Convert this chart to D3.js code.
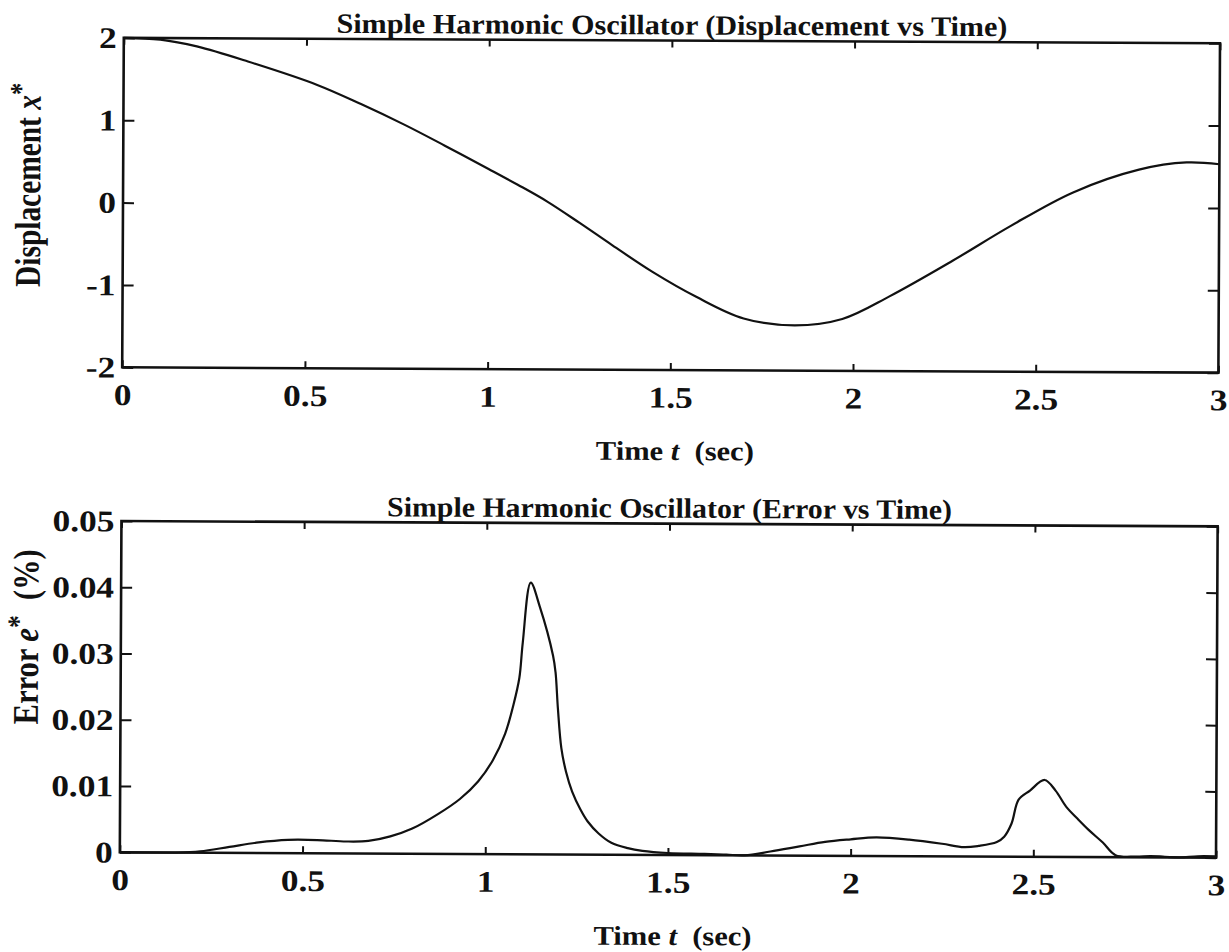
<!DOCTYPE html>
<html>
<head>
<meta charset="utf-8">
<script src="https://cdn.jsdelivr.net/npm/d3@7"></script>
<style>
  html, body { margin: 0; background: #fff; }
  svg text { font-family: "Liberation Serif", "Times New Roman", serif; font-weight: bold; fill: #111; }
</style>
</head>
<body>
<svg id="fig" width="1229" height="952"></svg>
<script>
// Displacement x*(t)
const dispTime  = [0, 0.1, 0.2, 0.34, 0.53, 0.65, 0.77, 0.88, 1.0, 1.08, 1.16, 1.25, 1.34, 1.45, 1.57, 1.70, 1.84, 1.97, 2.10, 2.27, 2.43, 2.60, 2.78, 2.91, 3.0];
const dispValue = [2.0, 1.98, 1.90, 1.72, 1.44, 1.21, 0.96, 0.71, 0.43, 0.24, 0.04, -0.22, -0.49, -0.81, -1.11, -1.37, -1.45, -1.37, -1.09, -0.66, -0.23, 0.18, 0.46, 0.55, 0.53];

// Error e*(t) in percent
const errTime  = [0, 0.15, 0.22, 0.30, 0.38, 0.46, 0.54, 0.62, 0.68, 0.74, 0.80, 0.87, 0.93, 0.98, 1.02, 1.053, 1.075, 1.091, 1.100, 1.121,
                  1.146, 1.183, 1.190, 1.197, 1.207, 1.22, 1.237, 1.26, 1.28, 1.31, 1.345, 1.39, 1.43, 1.50, 1.60, 1.66, 1.71, 1.78, 1.86, 1.93,
                  2.00, 2.07, 2.16, 2.25, 2.31, 2.35, 2.40, 2.42, 2.44, 2.459, 2.49, 2.53, 2.56, 2.589, 2.62, 2.651, 2.69, 2.725, 2.78, 2.82,
                  2.86, 2.90, 2.95, 3.0];
const errValue = [0, 0, 0.0002, 0.0009, 0.0016, 0.0020, 0.0020, 0.0018, 0.0019, 0.0026, 0.0038, 0.0060, 0.0083, 0.0110, 0.0142, 0.0182, 0.0225, 0.0266, 0.0320, 0.0410,
                  0.0374, 0.0300, 0.0275, 0.0220, 0.0160, 0.0125, 0.0095, 0.0068, 0.0050, 0.0032, 0.0018, 0.0010, 0.0006, 0.0003, 0.0002, 0.0001, 0.0000, 0.0006, 0.0014, 0.0021,
                  0.0025, 0.0028, 0.0025, 0.0019, 0.0014, 0.0016, 0.0022, 0.0030, 0.0050, 0.0086, 0.0100, 0.0116, 0.0100, 0.0076, 0.0058, 0.0041, 0.0022, 0.0003, 0.0001, 0.0002,
                  0.0001, 0.0000, 0.0002, 0.0002];

const timeTicks = [0, 0.5, 1, 1.5, 2, 2.5, 3];
const timeTickLabels = ["0", "0.5", "1", "1.5", "2", "2.5", "3"];
const dispTicks = [-2, -1, 0, 1, 2];
const dispTickLabels = ["-2", "-1", "0", "1", "2"];
const errTicks = [0, 0.01, 0.02, 0.03, 0.04, 0.05];
const errTickLabels = ["0", "0.01", "0.02", "0.03", "0.04", "0.05"];

const svg = d3.select("#fig");
// the printed page sits slightly rotated
const page = svg.append("g").attr("transform", "rotate(0.28 670 450)");

const left = 121.8, right = 1218;
const x = d3.scaleLinear().domain([0, 3]).range([left, right]);

const panels = [
  {
    top: 40.5, bottom: 370, domain: [-2, 2],
    t: dispTime, v: dispValue, ticks: dispTicks, tickLabels: dispTickLabels,
    title: "Simple Harmonic Oscillator (Displacement vs Time)", titleLen: 671,
    ylab: [["Displacement ", "normal", null], ["x", "italic", null], ["*", "normal", "35%"]],
    ylabY: 188, ylabLen: 204
  },
  {
    top: 523.7, bottom: 855, domain: [0, 0.05],
    t: errTime, v: errValue, ticks: errTicks, tickLabels: errTickLabels,
    title: "Simple Harmonic Oscillator (Error vs Time)", titleLen: 565,
    ylab: [["Error ", "normal", null], ["e", "italic", null], ["*", "normal", "35%"], ["\u00A0\u00A0(%)", "normal", null]],
    ylabY: 640, ylabLen: 175
  }
];

const stretch = 1.18;

panels.forEach(p => {
  const y = d3.scaleLinear().domain(p.domain).range([p.bottom, p.top]);
  const g = page.append("g");

  // inward ticks on all four sides
  const bottomAxis = g.append("g").attr("transform", `translate(0,${p.bottom})`)
    .call(d3.axisBottom(x).tickValues(timeTicks)
      .tickFormat((d, i) => timeTickLabels[i]).tickSizeInner(-7).tickSizeOuter(0));
  g.append("g").attr("transform", `translate(0,${p.top})`)
    .call(d3.axisTop(x).tickValues(timeTicks).tickFormat("").tickSizeInner(-7).tickSizeOuter(0));
  const leftAxis = g.append("g").attr("transform", `translate(${left},0)`)
    .call(d3.axisLeft(y).tickValues(p.ticks)
      .tickFormat((d, i) => p.tickLabels[i]).tickSizeInner(-11).tickSizeOuter(0));
  g.append("g").attr("transform", `translate(${right},0)`)
    .call(d3.axisRight(y).tickValues(p.ticks).tickFormat("").tickSizeInner(-11).tickSizeOuter(0));

  g.selectAll(".domain").remove();
  g.selectAll(".tick line").attr("stroke", "#111").attr("stroke-width", 2);

  bottomAxis.selectAll(".tick text")
    .attr("x", null).attr("y", null).attr("dy", null)
    .attr("text-anchor", "middle")
    .style("font-size", "30px")
    .attr("transform", `translate(0,37.7) scale(${stretch},1)`);
  leftAxis.selectAll(".tick text")
    .attr("x", null).attr("y", null).attr("dy", "0.33em")
    .attr("text-anchor", "end")
    .style("font-size", "30px")
    .attr("transform", `translate(-7,0) scale(${stretch},1)`);
  g.selectAll(".tick text").attr("font-family", null).attr("font-size", null);

  // frame
  g.append("rect")
    .attr("x", left).attr("y", p.top)
    .attr("width", right - left).attr("height", p.bottom - p.top)
    .attr("fill", "none").attr("stroke", "#111").attr("stroke-width", 2.6);

  // curve
  const line = d3.line()
    .x((d, i) => x(p.t[i]))
    .y(d => y(d))
    .curve(d3.curveCatmullRom.alpha(0.5));
  g.append("path")
    .datum(p.v)
    .attr("d", line)
    .attr("fill", "none")
    .attr("stroke", "#111")
    .attr("stroke-width", 2.2)
    .attr("stroke-linejoin", "round");

  // title
  g.append("text")
    .attr("x", (left + right) / 2).attr("y", p.top - 6)
    .attr("text-anchor", "middle")
    .attr("textLength", p.titleLen).attr("lengthAdjust", "spacingAndGlyphs")
    .style("font-size", "28px")
    .text(p.title);

  // x label
  const xl = g.append("text")
    .attr("x", (left + right) / 2 + 5).attr("y", p.bottom + 90)
    .attr("text-anchor", "middle")
    .attr("textLength", 158).attr("lengthAdjust", "spacingAndGlyphs")
    .style("font-size", "27px");
  xl.append("tspan").text("Time ");
  xl.append("tspan").style("font-style", "italic").text("t");
  xl.append("tspan").text("\u00A0\u00A0(sec)");

  // y label
  const yl = g.append("text")
    .attr("transform", `translate(39,${p.ylabY}) scale(1.25,1) rotate(-90)`)
    .attr("text-anchor", "middle")
    .attr("textLength", p.ylabLen).attr("lengthAdjust", "spacingAndGlyphs")
    .style("font-size", "29px");
  p.ylab.forEach(([txt, st, shift]) => {
    const ts = yl.append("tspan").style("font-style", st).text(txt);
    if (shift) ts.attr("baseline-shift", shift).style("font-size", "24px");
  });
});
</script>
</body>
</html>
